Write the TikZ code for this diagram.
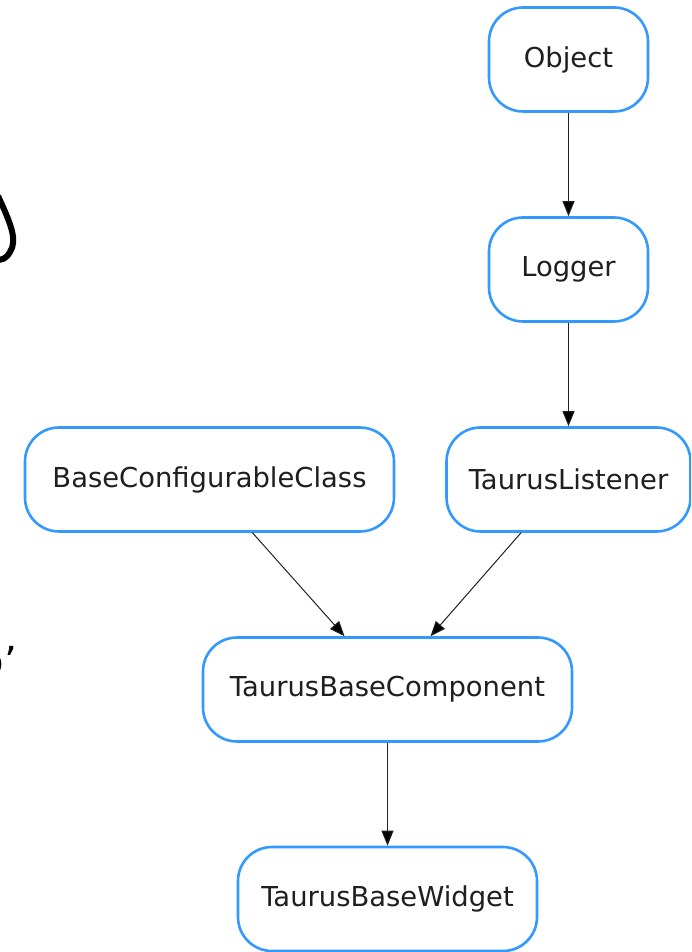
\documentclass[tikz,border=0pt]{standalone}
\usepackage{fontspec}
\setmainfont{DejaVu Sans}
\usetikzlibrary{arrows.meta}
\definecolor{nodeblue}{HTML}{3399FF}
\definecolor{edgegray}{HTML}{222222}
\tikzset{
  cls/.style={draw=nodeblue, line width=2.6pt, rounded corners=34pt, fill=white,
    minimum height=104pt, inner sep=0pt, text=black!88,
    font=\fontsize{27.4}{32}\selectfont},
  inh/.style={draw=edgegray, line width=1pt, -{Triangle[length=15pt,width=12pt,fill=black]}}
}
\begin{document}
\begin{tikzpicture}[x=1pt,y=1pt]
\useasboundingbox (0,0) rectangle (691,952);
\clip (0,0) rectangle (691,952);
% background fragments at the left edge
\draw[line width=6pt, black] (-2,756) .. controls (10,730) and (18,712) .. (10,700) .. controls (6,693) and (2,692) .. (-4,692);
\node[anchor=base east, font=\fontsize{40}{44}\selectfont, inner sep=0pt] (frag) at (17,276) {o’};
% nodes
\node[cls, minimum width=159pt] (obj) at (568.5,892.5) {Object};
\node[cls, minimum width=159pt] (log) at (568.5,682.5) {Logger};
\node[cls, minimum width=244pt] (tl) at (568.5,472.5) {TaurusListener};
\node[cls, minimum width=369pt] (bcc) at (209.5,472.5) {BaseConfigurableClass};
\node[cls, minimum width=369pt] (tbc) at (387.5,262.5) {TaurusBaseComponent};
\node[cls, minimum width=299pt] (tbw) at (387.5,53) {TaurusBaseWidget};
% edges
\draw[inh] (obj.south) -- (log.north);
\draw[inh] (log.south) -- (tl.north);
\draw[inh] ([xshift=43pt]bcc.south) -- ([xshift=-43pt]tbc.north);
\draw[inh] ([xshift=-47.5pt]tl.south) -- ([xshift=43pt]tbc.north);
\draw[inh] (tbc.south) -- (tbw.north);
\end{tikzpicture}
\end{document}
